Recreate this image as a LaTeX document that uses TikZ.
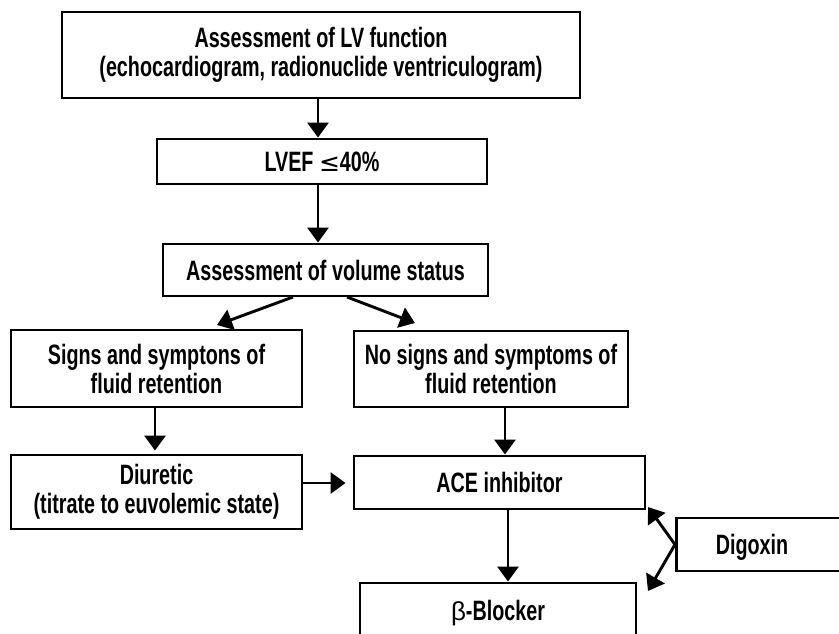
\documentclass[tikz,border=0pt]{standalone}
\usepackage{fontspec}
\setmainfont{Liberation Sans}[FakeStretch=0.705]
\newfontfamily\symfont{DejaVu Sans}
\newfontfamily\grkfont{Liberation Sans}
\usetikzlibrary{arrows.meta}
\begin{document}
\begin{tikzpicture}[x=1pt,y=-1pt,
  box/.style={draw, line width=2.9pt, inner sep=0pt, align=center,
    font=\fontsize{28}{29}\selectfont\bfseries},
  arr/.style={line width=2.9pt, -{Triangle[length=15pt,width=21pt]}},
  lbl/.style={inner sep=0pt, font=\fontsize{28}{29}\selectfont\bfseries}]
\fill[white] (0,0) rectangle (839,634);
\useasboundingbox (0,0) rectangle (839,634);
\clip (0,0) rectangle (839,634);

\node[box, minimum width=518pt, minimum height=86pt] (top) at (321,55)
  {Assessment of LV function\\(echocardiogram, radionuclide ventriculogram)};
\node[box, minimum width=330pt, minimum height=45pt] (lvef) at (322,161.5)
  {LVEF {\symfont\mdseries\fontsize{25}{28}\selectfont ≤}40\%};
\node[box, minimum width=325pt, minimum height=52pt] (vol) at (325.5,270)
  {Assessment of volume status};
\node[box, minimum width=291pt, minimum height=77pt] (signs) at (156.5,368.5)
  {Signs and symptons of\\fluid retention};
\node[box, minimum width=274pt, minimum height=76pt] (nosig) at (491,369)
  {No signs and symptoms of\\fluid retention};
\node[box, minimum width=291pt, minimum height=74pt] (diur) at (156.5,492)
  {Diuretic\\(titrate to euvolemic state)};
\node[box, minimum width=291pt, minimum height=53pt] (ace) at (499.5,482.5)
  {ACE inhibitor};
\node[box, minimum width=276pt, minimum height=60pt] (beta) at (498,613)
  {{\grkfont\mdseries\fontsize{26}{28}\selectfont β}-Blocker};
\node[box, minimum width=220pt, minimum height=53pt, anchor=west] (dig) at (675,544.5) {};
\node[lbl] (digtxt) at (752,547) {Digoxin};

% connectors
\draw[arr] ([xshift=-3pt]top.south) -- ([xshift=-3pt]top.south |- lvef.north);
\draw[arr] ([xshift=-4pt]lvef.south) -- ([xshift=-4pt]lvef.south |- vol.north);

\coordinate (vl) at (293,297);
\coordinate (vr) at (347,297);
\coordinate (tl) at (217,325);
\coordinate (tr) at (415,323);
\draw[arr] (vl) -- (tl);
\draw[arr] (vr) -- (tr);

\draw[arr, shorten >=3pt] ([xshift=-1.5pt]signs.south) -- ([xshift=-1.5pt]signs.south |- diur.north);
\draw[arr, shorten >=7pt] (diur.east |- 0,483) -- (ace.west |- 0,483);
\draw[arr] (nosig.south -| 505,0) -- (ace.north -| 505,0);
\draw[arr] (ace.south -| 508,0) -- (beta.north -| 508,0);

\coordinate (dt) at (648,507);
\coordinate (db) at (648,591);
\draw[arr] (dig.west) -- (dt);
\draw[arr] (dig.west) -- (db);
\end{tikzpicture}
\end{document}
